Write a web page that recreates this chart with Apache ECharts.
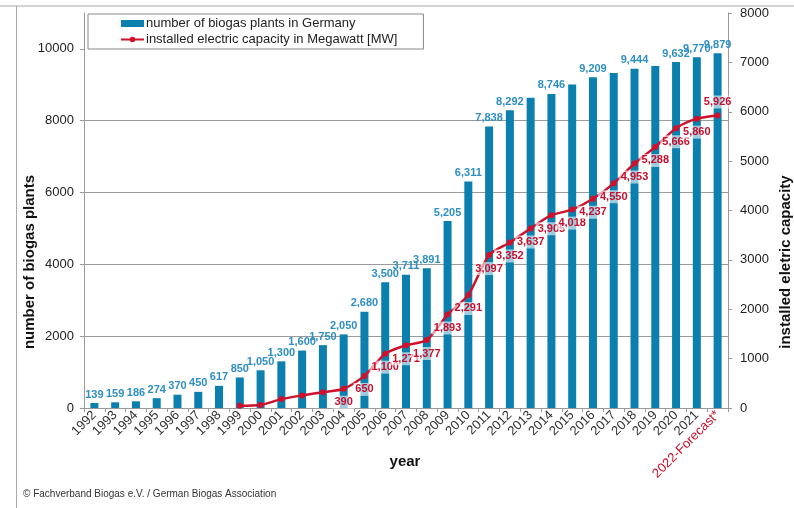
<!DOCTYPE html>
<html><head><meta charset="utf-8">
<script src="https://cdn.jsdelivr.net/npm/echarts@6/dist/echarts.min.js"></script>
<style>html,body{margin:0;padding:0;background:#fff}#c{width:794px;height:508px}</style>
</head><body><div id="c"></div>
<script>
const years = ['1992','1993','1994','1995','1996','1997','1998','1999','2000','2001','2002','2003','2004','2005','2006','2007','2008','2009','2010','2011','2012','2013','2014','2015','2016','2017','2018','2019','2020','2021','2022-Forecast*'];
const plants = [139,159,186,274,370,450,617,850,1050,1300,1600,1750,2050,2680,3500,3711,3891,5205,6311,7838,8292,8640,8746,9010,9209,9331,9444,9527,9632,9770,9879];
const plantsNoLabel = ['2013','2015','2017','2019'];
const capacity = [null,null,null,null,null,null,null,45,60,180,255,320,390,650,1100,1271,1377,1893,2291,3097,3352,3637,3905,4018,4237,4550,4953,5288,5666,5860,5926];
const capacityNoLabel = ['1999','2000','2001','2002','2003'];
const capacityLabelTop = ['2022-Forecast*'];
const leftTicks = [0,2000,4000,6000,8000,10000];

const fmt = v => v.toLocaleString('en-US');
const barColor = '#0b7fae';
const lineColor = '#d0112b';

const barData = plants.map((v,i)=>({value:v, label:{show: !plantsNoLabel.includes(years[i])}}));
const lineData = capacity.map((v,i)=>({value:v, label:{show: v!==null && !capacityNoLabel.includes(years[i]), position: capacityLabelTop.includes(years[i]) ? 'top' : 'bottom'}}));

const chart = echarts.init(document.getElementById('c'));
chart.setOption({
  animation:false,
  textStyle:{fontFamily:'Liberation Sans, Arial, sans-serif'},
  grid:{left:84,right:66,top:13,bottom:100,containLabel:false},
  legend:{
    orient:'vertical', left:88, top:14,
    backgroundColor:'#fff', borderColor:'#888', borderWidth:1,
    padding:[3,26,3,32], itemGap:3, itemWidth:23, itemHeight:7,
    textStyle:{fontSize:13,color:'#222',padding:[0,0,0,-3]},
    data:[
      {name:'number of biogas plants in Germany', icon:'rect'},
      {name:'installed electric capacity in Megawatt [MW]'}
    ]
  },
  xAxis:{
    type:'category', data:years,
    axisLine:{lineStyle:{color:'#999'}},
    axisTick:{show:true,length:4,lineStyle:{color:'#999'}},
    axisLabel:{interval:0, rotate:45, fontSize:10.5, margin:5,
      color:(v)=> v.indexOf('Forecast')>=0 ? '#c8102e' : '#333',
      fontWeight:(v)=> v.indexOf('Forecast')>=0 ? 'bold':'normal'}
  },
  yAxis:[
    {type:'value', min:0, max:11000, interval:2000,
     axisLine:{show:true,lineStyle:{color:'#999'}},
     axisTick:{show:true,length:4,customValues:leftTicks,lineStyle:{color:'#999'}},
     axisLabel:{fontSize:13,color:'#222',margin:10,customValues:leftTicks,formatter:v=>String(v)},
     splitLine:{show:true,showMaxLine:false,lineStyle:{color:'#9a9a9a',width:1}}},
    {type:'value', min:0, max:8000, interval:1000, position:'right',
     axisLine:{show:true,lineStyle:{color:'#999'}},
     axisTick:{show:true,length:4,lineStyle:{color:'#999'}},
     axisLabel:{fontSize:13,color:'#222',margin:12,formatter:v=>String(v)},
     splitLine:{show:false}}
  ],
  series:[
    {name:'number of biogas plants in Germany', type:'bar', data:barData, barWidth:8, yAxisIndex:0,
     itemStyle:{color:barColor},
     label:{position:'top', distance:3, fontSize:11, fontWeight:'bold', color:'#2f8fc2', formatter:p=>fmt(p.value)}},
    {name:'installed electric capacity in Megawatt [MW]', type:'line', data:lineData, yAxisIndex:1, smooth:0.25,
     connectNulls:false, symbol:'circle', symbolSize:6, z:5,
     lineStyle:{color:lineColor,width:2.5}, itemStyle:{color:lineColor},
     label:{distance:4, fontSize:11, fontWeight:'bold', color:'#c8102e', backgroundColor:'rgba(255,255,255,0.6)', padding:[1,2],
       formatter:p=>fmt(p.value)}}
  ],
  graphic:[
    {type:'line', shape:{x1:0,y1:6,x2:794,y2:6}, style:{stroke:'#aaa',lineWidth:1}},
    {type:'line', shape:{x1:16.5,y1:6,x2:16.5,y2:508}, style:{stroke:'#aaa',lineWidth:1}},
    {type:'text', x:30, y:262, rotation:Math.PI/2, style:{text:'number of biogas plants', fontSize:15, fontWeight:'bold', fill:'#111', align:'center', verticalAlign:'middle', fontFamily:'Liberation Sans, Arial, sans-serif'}},
    {type:'text', x:786, y:262, rotation:Math.PI/2, style:{text:'installed eletric capacity', fontSize:15, fontWeight:'bold', fill:'#111', align:'center', verticalAlign:'middle', fontFamily:'Liberation Sans, Arial, sans-serif'}},
    {type:'text', x:405, y:462, style:{text:'year', fontSize:15, fontWeight:'bold', fill:'#111', align:'center', verticalAlign:'middle', fontFamily:'Liberation Sans, Arial, sans-serif'}},
    {type:'text', x:23, y:494, style:{text:'© Fachverband Biogas e.V. / German Biogas Association', fontSize:10, fill:'#333', align:'left', verticalAlign:'middle', fontFamily:'Liberation Sans, Arial, sans-serif'}}
  ]
});
</script></body></html>
